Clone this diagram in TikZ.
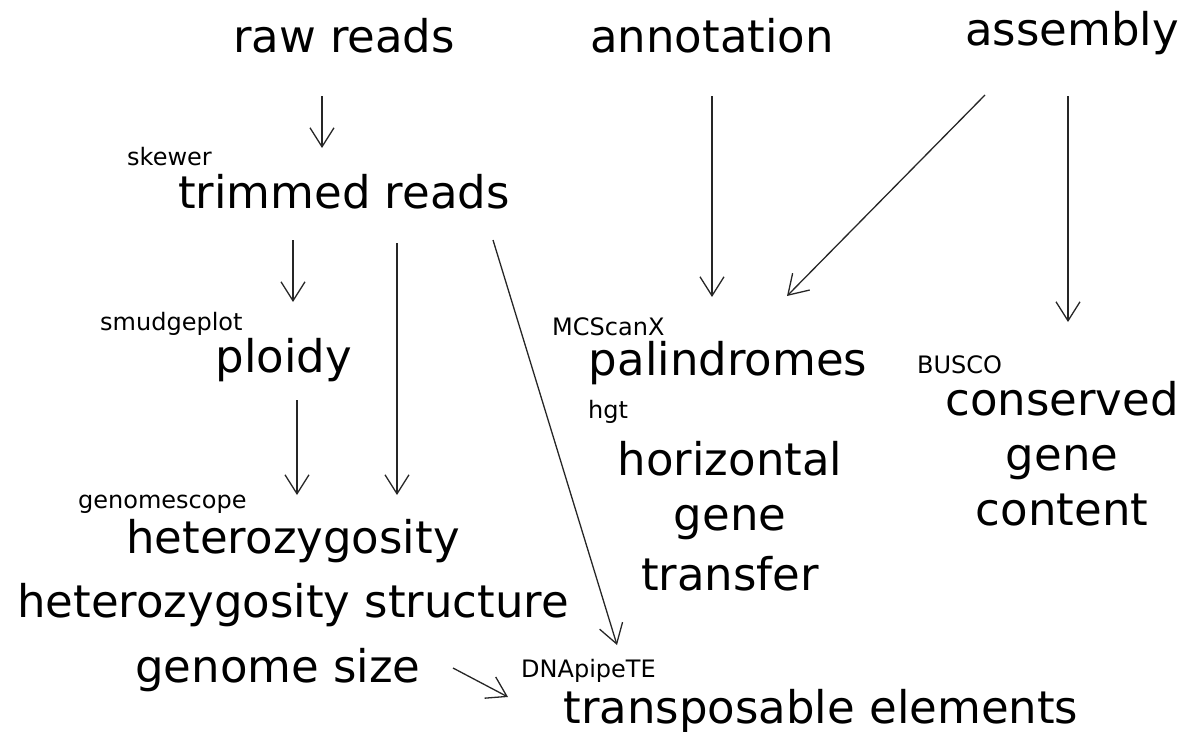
\documentclass[tikz,border=0pt]{standalone}
\usepackage{fontspec}
\setmainfont{DejaVu Sans}
\usetikzlibrary{arrows.meta,calc}
\begin{document}
\begin{tikzpicture}[x=1pt,y=-1pt,
  big/.style={inner sep=0pt,anchor=base,font=\fontsize{45}{50}\selectfont},
  small/.style={inner sep=0pt,anchor=base west,font=\fontsize{24}{28}\selectfont},
  arr/.style={draw=black!85,line width=1.3pt,-{Straight Barb[length=19pt,width=24pt,line width=1.3pt]}}]
\useasboundingbox (0,0) rectangle (1191,731);
% main labels
\node[big] (raw) at (344,52) {raw reads};
\node[big] (annot) at (712,52) {annotation};
\node[big] (assem) at (1072,45) {assembly};
\node[big] (trim) at (344,208) {trimmed reads};
\node[big] (ploidy) at (284,372) {ploidy};
\node[big] (het) at (293,553) {heterozygosity};
\node[big] (hetstr) at (293,617) {heterozygosity structure};
\node[big] (gsize) at (278,682) {genome size};
\node[big] (te) at (821,723) {transposable elements};
\node[big] (pal) at (728,375) {palindromes};
\node[big] (hgt1) at (730,475) {horizontal};
\node[big] (hgt2) at (730,530) {gene};
\node[big] (hgt3) at (730,590) {transfer};
\node[big] (cons1) at (1062,415) {conserved};
\node[big] (cons2) at (1062,470) {gene};
\node[big] (cons3) at (1062,525) {content};
% tool labels
\node[small] (skewer) at (127,165) {skewer};
\node[small] (smudge) at (100,330) {smudgeplot};
\node[small] (gscope) at (78,508) {genomescope};
\node[small] (dnap) at (521,677) {DNApipeTE};
\node[small] (mcs) at (552,335) {MCScanX};
\node[small] (hgt) at (588,418) {hgt};
\node[small] (busco) at (917,373) {BUSCO};
% arrows
\draw[arr] ($(raw.base)+(-22,44)$) -- ($(trim.base)+(-22,-60)$);
\draw[arr] ($(trim.base)+(-51,32)$) -- ($(ploidy.base)+(9,-70)$);
\draw[arr] ($(trim.base)+(53,35)$) -- ($(het.base)+(104,-58)$);
\draw[arr] ($(ploidy.base)+(13,28)$) -- ($(het.base)+(4,-58)$);
\draw[arr] ($(trim.base)+(149,32)$) -- ($(te.base)+(-204,-78)$);
\draw[arr] ($(gsize.base)+(175,-14)$) -- ($(te.base)+(-313,-26)$);
\draw[arr] ($(annot.base)+(0,44)$) -- ($(pal.base)+(-16,-78)$);
\draw[arr] ($(assem.base)+(-87,50)$) -- ($(pal.base)+(59,-79)$);
\draw[arr] ($(assem.base)+(-4,51)$) -- ($(cons1.base)+(6,-93)$);
\end{tikzpicture}
\end{document}
